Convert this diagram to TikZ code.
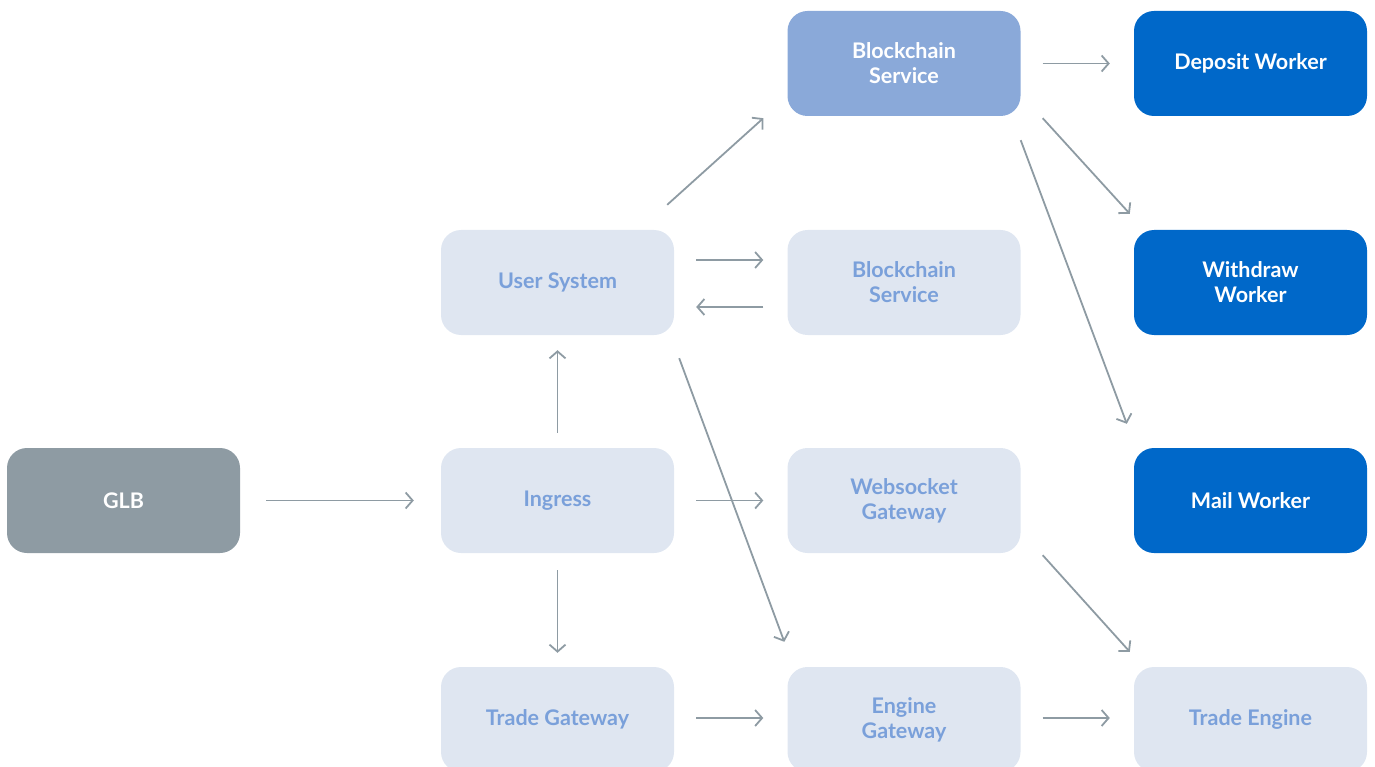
\documentclass[tikz,border=0pt]{standalone}
\usepackage{fontspec}
\setmainfont{Lato}
\usetikzlibrary{arrows.meta}
\definecolor{glbgray}{HTML}{8E9BA3}
\definecolor{lightfill}{HTML}{DFE6F1}
\definecolor{lighttext}{HTML}{7AA0DA}
\definecolor{midfill}{HTML}{8AA9D9}
\definecolor{darkblue}{HTML}{0068C9}
\definecolor{arrowgray}{HTML}{8E9BA3}
\tikzset{
  box/.style={rounded corners=20pt, minimum width=233pt, minimum height=105pt, inner sep=0pt,
    align=center, font=\fontsize{21.5}{25}\selectfont\bfseries},
  lightbox/.style={box, fill=lightfill, text=lighttext},
  midbox/.style={box, fill=midfill, text=white},
  darkbox/.style={box, fill=darkblue, text=white},
  graybox/.style={box, fill=glbgray, text=white},
  conn/.style={draw=arrowgray, line width=1.8pt, -{Straight Barb[length=7pt,width=16pt,line width=1.8pt]}}
}
\begin{document}
\begin{tikzpicture}[x=1pt,y=-1pt]
\useasboundingbox (0,0) rectangle (1375,767);
\clip (0,0) rectangle (1375,767);
\node[graybox] (glb) at (123.5,500.5) {GLB};
\node[lightbox] (us) at (557.5,282.5) {User System};
\node[lightbox] (ing) at (557.5,500.5) {Ingress};
\node[lightbox] (tg) at (557.5,719.5) {Trade Gateway};
\node[midbox] (bct) at (904,63.5) {Blockchain\\Service};
\node[lightbox] (bcm) at (904,282.5) {Blockchain\\Service};
\node[lightbox] (ws) at (904,500.5) {Websocket\\Gateway};
\node[lightbox] (eg) at (904,719.5) {Engine\\Gateway};
\node[darkbox] (dw) at (1250.5,63.5) {Deposit Worker};
\node[darkbox] (ww) at (1250.5,282.5) {Withdraw\\Worker};
\node[darkbox] (mw) at (1250.5,500.5) {Mail Worker};
\node[lightbox] (te) at (1250.5,719.5) {Trade Engine};

\draw[conn] ([shift={(26,0)}]glb.east) -- ([shift={(-27,0)}]ing.west);
\draw[conn] ([shift={(0,-15)}]ing.north) -- ([shift={(0,15)}]us.south);
\draw[conn] ([shift={(0,17)}]ing.south) -- ([shift={(0,-14)}]tg.north);
\draw[conn] ([shift={(22,0)}]ing.east) -- ([shift={(-24,0)}]ws.west);
\draw[conn] ([shift={(22,-22.5)}]us.east) -- ([shift={(-24,-22.5)}]bcm.west);
\draw[conn] ([shift={(-24,24.5)}]bcm.west) -- ([shift={(22,24.5)}]us.east);
\draw[conn] ([shift={(-7,-25)}]us.north east) -- ([shift={(-24,2)}]bct.south west);
\draw[conn] ([shift={(5,23)}]us.south east) -- ([shift={(-3,-25)}]eg.north west);
\draw[conn] ([shift={(22,-1.5)}]tg.east) -- ([shift={(-24,-1.5)}]eg.west);
\draw[conn] ([shift={(22,-1.5)}]eg.east) -- ([shift={(-24,-1.5)}]te.west);
\draw[conn] ([shift={(22,2)}]ws.south east) -- ([shift={(-4,-15)}]te.north west);
\draw[conn] ([shift={(22,0)}]bct.east) -- ([shift={(-24,0)}]dw.west);
\draw[conn] ([shift={(22,2)}]bct.south east) -- ([shift={(-4,-16)}]ww.north west);
\draw[conn] ([shift={(0,24)}]bct.south east) -- ([shift={(-7,-24)}]mw.north west);
\end{tikzpicture}
\end{document}
